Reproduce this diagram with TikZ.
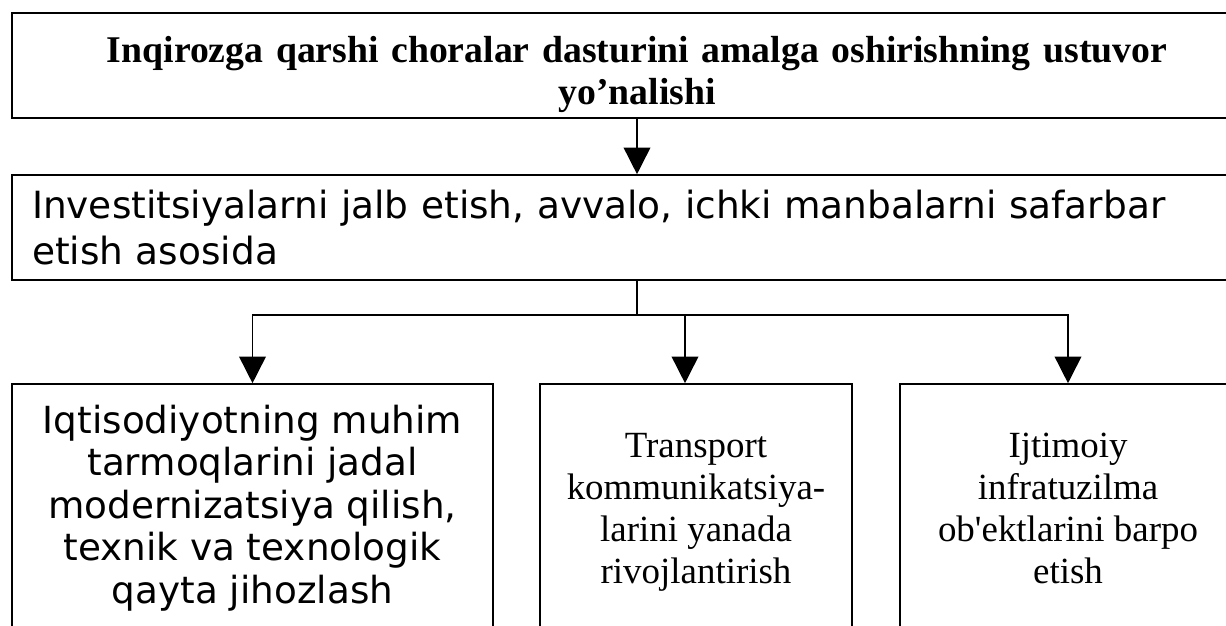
\documentclass[tikz,border=0pt]{standalone}
\usepackage{fontspec}
\setmainfont{Liberation Serif}[Ligatures=TeXOff]
\setsansfont{DejaVu Sans}
\usepackage{tikz}
\usetikzlibrary{positioning,arrows.meta}

\begin{document}
\begin{tikzpicture}[x=0.75pt, y=-0.75pt,
  box/.style={
    draw=black, line width=1.2pt, inner sep=0pt, align=center
  },
  conn/.style={line width=1.2pt},
  arr/.style={conn, -{Triangle[length=20pt, width=20pt]}}
]
\clip (0,0) rectangle (1226,625);

\node[box, minimum width=937.5pt, minimum height=78.75pt, text width=900pt,
  font=\fontsize{28.3pt}{31.5pt}\selectfont\bfseries] (prio) at (637,65.5)
  {\rule{0pt}{33.4pt}Inqirozga qarshi choralar dasturini amalga oshirishning ustuvor\\yo’nalishi};
\node[box, minimum width=937.5pt, minimum height=78.75pt, text width=907.5pt,
  inner xsep=15pt, align=left,
  font=\fontsize{28.1pt}{34.5pt}\selectfont\sffamily] (inv) at (637,227.5)
  {Investitsiyalarni jalb etish, avvalo, ichki manbalarni safarbar\\etish asosida};

\node[box, minimum width=360.75pt, minimum height=186pt,
  font=\fontsize{28pt}{31.9pt}\selectfont\sffamily] (econ) at (252.5,508)
  {Iqtisodiyotning muhim\\tarmoqlarini jadal\\modernizatsiya qilish,\\texnik va texnologik\\qayta jihozlash};
\node[box, minimum width=234pt, minimum height=192pt,
  font=\fontsize{27.7pt}{31.5pt}\selectfont] (trans) at (696,512)
  {Transport\\kommunikatsiya-\\larini yanada\\rivojlantirish};
\node[box, minimum width=252pt, minimum height=186pt,
  font=\fontsize{27.7pt}{31.5pt}\selectfont] (social) at (1068,508)
  {Ijtimoiy\\infratuzilma\\ob'ektlarini barpo\\etish};

\coordinate (split) at (637,315);
\draw[arr] (prio) -- (inv);
\draw[conn] (inv.south) -- (split);
\draw[arr] (split) -| (econ.north);
\draw[arr] (split) -| ([xshift=-8.25pt]trans.north);
\draw[arr] (split) -| (social.north);
\end{tikzpicture}
\end{document}
